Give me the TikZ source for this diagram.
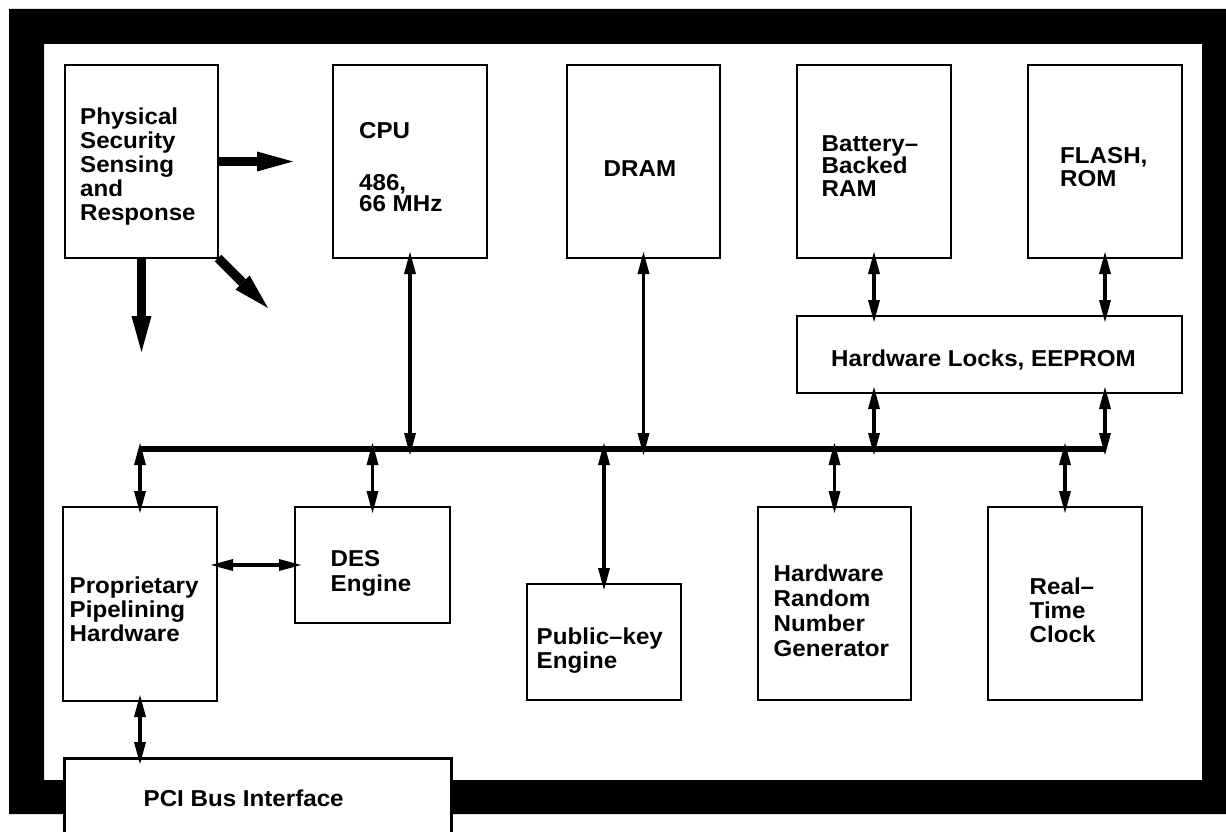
\documentclass[tikz,border=0pt]{standalone}
\usepackage{fontspec}
\newfontfamily\lab{Liberation Sans}[FakeStretch=1.05]
\usetikzlibrary{arrows.meta}
\tikzset{
  box/.style={draw, line width=1.6pt, anchor=north west, inner sep=0pt, outer sep=0pt, fill=white},
  lbl/.style={font=\lab\bfseries\fontsize{23}{24}\selectfont, align=left, inner sep=0pt, anchor=north west},
  dbl/.style={line width=3.2pt, {Triangle[length=22pt,width=12pt,line width=0pt]}-{Triangle[length=22pt,width=12pt,line width=0pt]}, shorten <=-6pt, shorten >=-6pt},
  fat/.style={line width=9.5pt, -{Triangle[length=36pt,width=20pt,line width=0pt]}},
  busline/.style={line width=6.5pt},
}
\begin{document}
\begin{tikzpicture}[x=1pt,y=-1pt]
\useasboundingbox (0,0) rectangle (1226,832);
\clip (0,0) rectangle (1226,832);
\fill[white] (0,0) rectangle (1226,832);
\fill[black, even odd rule] (9,9) rectangle (1250,814) (44,44) rectangle (1202,780);

% boxes
\node[box, minimum width=153pt, minimum height=193pt] (phys) at (65,65) {};
\node[box, minimum width=154pt, minimum height=193pt] (cpu) at (333,65) {};
\node[box, minimum width=153pt, minimum height=193pt] (dram) at (567,65) {};
\node[box, minimum width=154pt, minimum height=193pt] (batt) at (797,65) {};
\node[box, minimum width=154pt, minimum height=193pt] (flash) at (1028,65) {};
\node[box, minimum width=385pt, minimum height=77pt] (locks) at (797,316) {};
\node[box, minimum width=154pt, minimum height=194pt] (prop) at (63,507) {};
\node[box, minimum width=155pt, minimum height=116pt] (des) at (295,507) {};
\node[box, minimum width=154pt, minimum height=116pt] (pk) at (527,584) {};
\node[box, minimum width=153pt, minimum height=193pt] (rng) at (758,507) {};
\node[box, minimum width=154pt, minimum height=193pt] (rtc) at (988,507) {};
\node[box, line width=3pt, minimum width=387pt, minimum height=90pt] (pci) at (64,758) {};

% labels
\node[lbl] (physT) at (80,108) {Physical\\Security\\Sensing\\and\\Response};
\node[lbl] (cpuT) at (359,122.7) {CPU\\[28pt]486,\\[-3pt]66 MHz};
\node[lbl] (dramT) at (603.5,160) {DRAM};
\node[lbl] (battT) at (821.5,135) {Battery–\\[-1.5pt]Backed\\[-1.5pt]RAM};
\node[lbl] (flashT) at (1060,147) {FLASH,\\[-1pt]ROM};
\node[lbl, anchor=north] (locksT) at (983.5,350) {Hardware Locks, EEPROM};
\node[lbl] (propT) at (69.5,577) {Proprietary\\Pipelining\\Hardware};
\node[lbl] (desT) at (330.5,550) {DES\\[1pt]Engine};
\node[lbl] (pkT) at (536.5,628) {Public–key\\Engine};
\node[lbl] (rngT) at (773.5,565) {Hardware\\[1pt]Random\\[1pt]Number\\[1pt]Generator};
\node[lbl] (rtcT) at (1029.5,578) {Real–\\Time\\Clock};
\node[lbl] (pciT) at (143.5,790) {PCI Bus Interface};

% bus
\coordinate (busL) at (140,449);
\coordinate (busR) at (1104,449);
\draw[busline] (busL) -- (busR);

% connectors
\draw[dbl] (cpu.south) -- (cpu.south |- busL);
\draw[dbl] (dram.south) -- (dram.south |- busL);
\draw[dbl] (batt.south) -- (batt.south |- locks.north);
\draw[dbl] (flash.south) -- (flash.south |- locks.north);
\draw[dbl] (batt.south |- locks.south) -- (batt.south |- busL);
\draw[dbl] (flash.south |- locks.south) -- (flash.south |- busL);
\draw[dbl] (prop.north) -- (prop.north |- busL);
\draw[dbl] (des.north) -- (des.north |- busL);
\draw[dbl] (pk.north) -- (pk.north |- busL);
\draw[dbl] (rng.north) -- (rng.north |- busL);
\draw[dbl] (rtc.north) -- (rtc.north |- busL);
\draw[dbl] (prop.east |- des.west) -- (des.west);
\draw[dbl] (prop.south) -- (prop.south |- pci.north);

% thick outgoing arrows
\coordinate (pR) at (293,161.5);
\coordinate (pD) at (141.5,352);
\coordinate (pDR) at (268,308);
\draw[fat] (phys.east) -- (pR);
\draw[fat] (phys.south) -- (pD);
\draw[fat] (phys.south east) -- (pDR);
\end{tikzpicture}
\end{document}
